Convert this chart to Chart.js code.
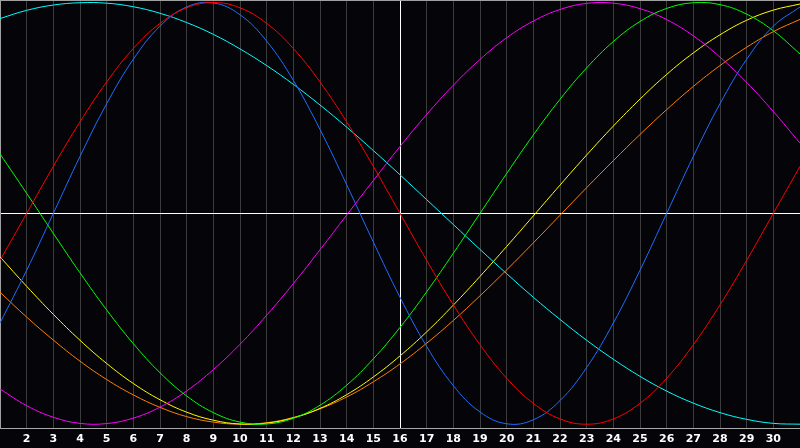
<!DOCTYPE html>
<html>
<head>
<meta charset="utf-8">
<script src="https://cdn.jsdelivr.net/npm/chart.js@4/dist/chart.umd.min.js"></script>
<style>
  html, body { margin: 0; padding: 0; background: #050408; }
  canvas { display: block; }
</style>
</head>
<body>
<canvas id="chart" width="800" height="448"></canvas>
<script>
// days of the month shown on the x axis
const days = [1,2,3,4,5,6,7,8,9,10,11,12,13,14,15,16,17,18,19,20,21,22,23,24,25,26,27,28,29,30,31];
const today = 16;
const yMin = -101.8;
const yMax = 101.2;

// values, -100 .. 100
const red = [-22.3,0,22.3,43.4,62.3,78.2,90.1,97.5,100,97.5,90.1,78.2,62.3,43.4,22.3,0,-22.3,-43.4,-62.3,-78.2,-90.1,-97.5,-100,-97.5,-90.1,-78.2,-62.3,-43.4,-22.3,0,22.3];
const blue = [-52.0,-27.0,0,27.0,52.0,73.1,88.8,97.9,99.8,94.2,81.7,63.1,39.8,13.6,-13.6,-39.8,-63.1,-81.7,-94.2,-99.8,-97.9,-88.8,-73.1,-52.0,-27.0,0,27.0,52.0,73.1,88.8,97.9];
const green = [28.2,9.5,-9.5,-28.2,-45.8,-61.8,-75.6,-86.6,-94.5,-99.0,-99.9,-97.2,-91.0,-81.5,-69.0,-54.1,-37.2,-18.9,0,18.9,37.2,54.1,69.0,81.5,91.0,97.2,99.9,99.0,94.5,86.6,75.6];
const magenta = [-83.3,-91.2,-96.7,-99.6,-99.7,-97.1,-91.9,-84.2,-74.1,-62.1,-48.3,-33.3,-17.3,-0.8,15.6,31.7,46.9,60.8,73.0,83.3,91.2,96.7,99.6,99.7,97.1,91.9,84.2,74.1,62.1,48.3,33.3];
const yellow = [-20.6,-34.6,-47.9,-60.2,-71.2,-80.7,-88.4,-94.3,-98.1,-99.9,-99.5,-97.0,-92.5,-86.0,-77.6,-67.6,-56.2,-43.5,-29.9,-15.7,-1.2,13.4,27.7,41.4,54.2,65.9,76.1,84.7,91.6,96.4,99.3];
const orange = [-37.4,-49.2,-60.1,-70.1,-78.8,-86.1,-92.0,-96.4,-99.0,-100.0,-99.3,-96.8,-92.7,-87.1,-79.9,-71.4,-61.6,-50.8,-39.1,-26.8,-14.0,-0.9,12.2,25.0,37.4,49.2,60.2,70.1,78.8,86.2,92.0];
const cyan = [92.4,96.3,98.8,99.9,99.7,98.0,94.9,90.5,84.9,78.0,70.1,61.2,51.4,40.9,29.8,18.3,6.5,-5.3,-17.1,-28.6,-39.8,-50.3,-60.2,-69.2,-77.3,-84.3,-90.0,-94.5,-97.7,-99.6,-100.0];

const series = [
  { data: red, color: "#ff0000" },
  { data: blue, color: "#1e6eff" },
  { data: green, color: "#00ff00" },
  { data: magenta, color: "#ff00ff" },
  { data: yellow, color: "#ffff00" },
  { data: orange, color: "#ff8000" },
  { data: cyan, color: "#00ffff" },
];

const blackBg = {
  id: "blackBg",
  beforeDraw(chart) {
    const c = chart.ctx;
    c.save();
    c.fillStyle = "#050408";
    c.fillRect(0, 0, chart.width, chart.height);
    c.restore();
  }
};

new Chart(document.getElementById("chart"), {
  type: "line",
  data: {
    datasets: series.map((s) => ({
      data: s.data.map((v, i) => ({ x: days[i], y: v })),
      borderColor: s.color,
      borderWidth: 1,
      pointRadius: 0,
      tension: 0.4,
      fill: false,
    })),
  },
  options: {
    responsive: false,
    animation: false,
    devicePixelRatio: 1,
    layout: { padding: 0 },
    plugins: { legend: { display: false }, tooltip: { enabled: false } },
    scales: {
      x: {
        type: "linear",
        min: 1,
        max: 31,
        afterFit: (scale) => {
          // plot runs edge to edge, labels sit in a 20px strip
          scale.paddingLeft = 0;
          scale.paddingRight = 0;
          scale.height = 20;
        },
        ticks: {
          stepSize: 1,
          autoSkip: false,
          maxRotation: 0,
          padding: 5,
          color: "#ffffff",
          font: { family: "DejaVu Sans", size: 11, weight: "bold" },
          callback: (v) => (v === 1 || v === 31 ? "" : v),
        },
        grid: {
          drawTicks: false,
          color: (ctx) => (ctx.tick.value === today ? "#ffffff" : ctx.tick.value === 31 ? "transparent" : "#3c3c3c"),
        },
        border: { color: "#a8a8a8" },
      },
      y: {
        min: yMin,
        max: yMax,
        afterBuildTicks: (scale) => {
          scale.ticks = [{ value: yMin }, { value: 0 }, { value: yMax }];
        },
        afterFit: (scale) => {
          scale.width = 0;
        },
        ticks: { display: false },
        grid: {
          drawTicks: false,
          color: (ctx) => (ctx.tick.value === 0 ? "#ffffff" : ctx.tick.value === yMax ? "#a0a0a0" : "transparent"),
        },
        border: { color: "#a0a0a0" },
      },
    },
  },
  plugins: [blackBg],
});
</script>
</body>
</html>
